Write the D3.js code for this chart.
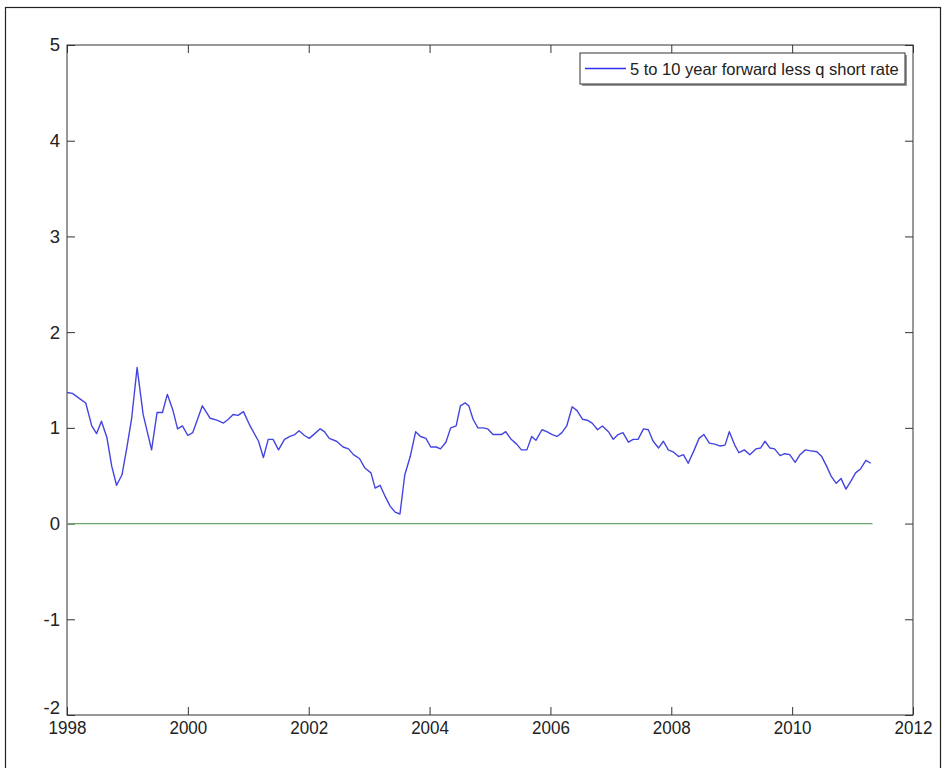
<!DOCTYPE html>
<html>
<head>
<meta charset="utf-8">
<script src="https://cdn.jsdelivr.net/npm/d3@7"></script>
<style>
  body { margin: 0; background: #fff; }
  svg { display: block; }
</style>
</head>
<body>
<div id="chart"></div>
<script>
// decimal years and values
const years = [
  1998.00, 1998.09, 1998.22, 1998.31, 1998.41, 1998.49, 1998.57, 1998.66, 1998.74, 1998.82,
  1998.91, 1998.99, 1999.07, 1999.16, 1999.26, 1999.40, 1999.49, 1999.58, 1999.66, 1999.75,
  1999.83, 1999.91, 2000.00, 2000.08, 2000.24, 2000.37, 2000.48, 2000.59, 2000.67, 2000.75,
  2000.83, 2000.92, 2001.03, 2001.17, 2001.25, 2001.33, 2001.41, 2001.50, 2001.60, 2001.69,
  2001.77, 2001.84, 2001.93, 2002.01, 2002.10, 2002.19, 2002.26, 2002.34, 2002.46, 2002.57,
  2002.66, 2002.74, 2002.84, 2002.93, 2003.03, 2003.10, 2003.18, 2003.26, 2003.35, 2003.43,
  2003.51, 2003.59, 2003.68, 2003.77, 2003.85, 2003.94, 2004.02, 2004.11, 2004.18, 2004.27,
  2004.35, 2004.44, 2004.51, 2004.59, 2004.65, 2004.72, 2004.80, 2004.89, 2004.96, 2005.05,
  2005.14, 2005.19, 2005.26, 2005.35, 2005.44, 2005.52, 2005.61, 2005.69, 2005.76, 2005.86,
  2005.94, 2006.03, 2006.11, 2006.19, 2006.27, 2006.36, 2006.44, 2006.53, 2006.61, 2006.69,
  2006.78, 2006.86, 2006.96, 2007.04, 2007.12, 2007.20, 2007.29, 2007.37, 2007.45, 2007.54,
  2007.62, 2007.70, 2007.79, 2007.87, 2007.95, 2008.03, 2008.12, 2008.20, 2008.28, 2008.38,
  2008.46, 2008.54, 2008.63, 2008.72, 2008.81, 2008.89, 2008.96, 2009.05, 2009.12, 2009.21,
  2009.30, 2009.40, 2009.48, 2009.55, 2009.63, 2009.71, 2009.80, 2009.88, 2009.96, 2010.05,
  2010.13, 2010.22, 2010.31, 2010.41, 2010.49, 2010.57, 2010.65, 2010.73, 2010.81, 2010.89,
  2010.97, 2011.05, 2011.13, 2011.22, 2011.30
]
const fwdLessShort = [
  1.37, 1.36, 1.30, 1.26, 1.02, 0.94, 1.07, 0.90, 0.60, 0.40,
  0.51, 0.79, 1.10, 1.63, 1.14, 0.77, 1.16, 1.16, 1.35, 1.19,
  0.99, 1.02, 0.92, 0.95, 1.23, 1.10, 1.08, 1.05, 1.09, 1.14,
  1.13, 1.17, 1.02, 0.86, 0.69, 0.88, 0.88, 0.77, 0.88, 0.91,
  0.93, 0.97, 0.92, 0.89, 0.94, 0.99, 0.96, 0.89, 0.86, 0.80,
  0.78, 0.72, 0.68, 0.58, 0.53, 0.37, 0.40, 0.29, 0.18, 0.12,
  0.10, 0.51, 0.70, 0.96, 0.91, 0.89, 0.80, 0.80, 0.78, 0.85,
  1.00, 1.02, 1.23, 1.26, 1.23, 1.09, 1.00, 1.00, 0.99, 0.93,
  0.93, 0.93, 0.96, 0.88, 0.83, 0.77, 0.77, 0.91, 0.87, 0.98,
  0.96, 0.93, 0.91, 0.95, 1.02, 1.22, 1.18, 1.09, 1.08, 1.05,
  0.98, 1.02, 0.96, 0.88, 0.93, 0.95, 0.85, 0.88, 0.88, 0.99,
  0.98, 0.86, 0.79, 0.86, 0.77, 0.75, 0.70, 0.72, 0.63, 0.77,
  0.89, 0.93, 0.84, 0.83, 0.81, 0.82, 0.96, 0.82, 0.74, 0.77,
  0.72, 0.78, 0.79, 0.86, 0.79, 0.78, 0.71, 0.73, 0.72, 0.64,
  0.72, 0.77, 0.76, 0.75, 0.70, 0.60, 0.49, 0.42, 0.47, 0.36,
  0.44, 0.53, 0.57, 0.66, 0.63
]
const zeroLine = [[1998, 0], [2011.33, 0]]
const xTicks = [1998, 2000, 2002, 2004, 2006, 2008, 2010, 2012]
const yTicks = [-2, -1, 0, 1, 2, 3, 4, 5]
const legendLabel = "5 to 10 year forward less q short rate"

const W = 947, H = 768
const margin = {top: 45, right: 34, bottom: 53, left: 67}
const width = W - margin.left - margin.right
const height = H - margin.top - margin.bottom
const tickFont = "'Liberation Sans', Arial, sans-serif"

const root = d3.select("#chart").append("svg")
    .attr("width", W)
    .attr("height", H)

// outer frame of the figure
root.append("rect")
    .attr("x", 5.5).attr("y", 7.5)
    .attr("width", 935).attr("height", 780)
    .attr("fill", "none").attr("stroke", "#222").attr("stroke-width", 1.2)

const svg = root.append("g")
    .attr("transform", `translate(${margin.left},${margin.top})`)

const x = d3.scaleLinear().domain([1998, 2012]).range([0, width])
const y = d3.scaleLinear().domain([-2, 5]).range([height, 0])

const tickLen = 8

// box
svg.append("rect")
    .attr("width", width).attr("height", height)
    .attr("fill", "none").attr("stroke", "#333").attr("stroke-width", 1)

// bottom axis with labels, ticks pointing inward
const xb = svg.append("g")
    .attr("transform", `translate(0,${height})`)
    .call(d3.axisBottom(x).tickValues(xTicks).tickFormat(d => String(d)).tickSizeInner(-tickLen).tickSizeOuter(0).tickPadding(4))
xb.select(".domain").remove()
xb.selectAll("line").attr("stroke", "#333")
xb.selectAll("text").attr("font-family", tickFont).attr("font-size", 18.5).attr("fill", "#222")
    .attr("dy", "0.8em").attr("transform", "scale(0.92,1)")

// top ticks
const xt = svg.append("g")
    .call(d3.axisTop(x).tickValues(xTicks).tickFormat("").tickSizeInner(-tickLen).tickSizeOuter(0))
xt.select(".domain").remove()
xt.selectAll("line").attr("stroke", "#333")

// left axis
const yl = svg.append("g")
    .call(d3.axisLeft(y).tickValues(yTicks).tickFormat(d => String(d)).tickSizeInner(-tickLen).tickSizeOuter(0).tickPadding(7))
yl.select(".domain").remove()
yl.selectAll("line").attr("stroke", "#333")
yl.selectAll("text").attr("font-family", tickFont).attr("font-size", 18.5).attr("fill", "#222")
    .attr("dy", d => d === -2 ? "-0.1em" : "0.32em")

// right ticks
const yr = svg.append("g")
    .attr("transform", `translate(${width},0)`)
    .call(d3.axisRight(y).tickValues(yTicks).tickFormat("").tickSizeInner(-tickLen).tickSizeOuter(0))
yr.select(".domain").remove()
yr.selectAll("line").attr("stroke", "#333")

const line = d3.line()
    .x(d => x(d[0]))
    .y(d => y(d[1]))

svg.append("path")
    .datum(zeroLine)
    .attr("d", line)
    .attr("fill", "none")
    .attr("stroke", "#6aa86a")
    .attr("stroke-width", 1.3)

svg.append("path")
    .datum(years.map((t, i) => [t, fwdLessShort[i]]))
    .attr("d", line)
    .attr("fill", "none")
    .attr("stroke", "#4444e0")
    .attr("stroke-width", 1.4)
    .attr("stroke-linejoin", "round")

// legend
const lg = svg.append("g")
    .attr("transform", `translate(${580 - margin.left},${53 - margin.top})`)
lg.append("rect")
    .attr("x", 2).attr("y", 2).attr("width", 325).attr("height", 31)
    .attr("fill", "#999")
lg.append("rect")
    .attr("width", 325).attr("height", 31)
    .attr("fill", "#fff").attr("stroke", "#333").attr("stroke-width", 1)
lg.append("line")
    .attr("x1", 5).attr("x2", 46).attr("y1", 15.5).attr("y2", 15.5)
    .attr("stroke", "#3030e8").attr("stroke-width", 1.3)
lg.append("text")
    .attr("x", 50).attr("y", 21.5)
    .attr("font-family", "'Liberation Sans', Arial, sans-serif")
    .attr("font-size", 16.5)
    .attr("fill", "#222")
    .text(legendLabel)
</script>
</body>
</html>
